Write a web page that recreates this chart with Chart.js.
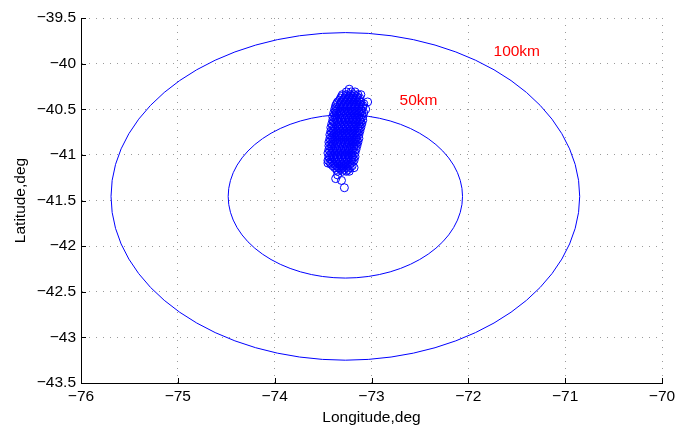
<!DOCTYPE html>
<html lang="en">
<head>
<meta charset="UTF-8">
<title>Longitude / Latitude</title>
<script src="https://cdn.jsdelivr.net/npm/chart.js"></script>
<style>
  body { margin: 0; background: #fff; }
  canvas { display: block; }
</style>
</head>
<body>
<canvas id="geoChart" width="688" height="431"></canvas>
<script>
// axis ticks
var lonTicks = [-76, -75, -74, -73, -72, -71, -70];
var latTicks = [-43.5, -43, -42.5, -42, -41.5, -41, -40.5, -40, -39.5];

// positions, grouped by latitude row
var rowLat = [-40.28, -40.31, -40.34, -40.38, -40.42, -40.46, -40.50, -40.54, -40.58, -40.62, -40.66, -40.70,
              -40.74, -40.78, -40.82, -40.86, -40.90, -40.94, -40.98, -41.02, -41.06, -41.10, -41.14, -41.18,
              -40.36, -40.40, -40.44, -40.48, -40.52, -40.56, -40.60, -40.64, -40.68, -40.72, -40.76,
              -40.80, -40.84, -40.88, -40.92, -40.96, -41.00, -41.04, -41.08, -41.12, -41.16];
var rowLon = [
    [-73.23],
    [-73.26, -73.21, -73.17],
    [-73.30, -73.26, -73.22, -73.18, -73.14, -73.11],
    [-73.32, -73.28, -73.24, -73.20, -73.16, -73.12],
    [-73.35, -73.31, -73.27, -73.23, -73.19, -73.15, -73.11, -73.04],
    [-73.37, -73.33, -73.29, -73.25, -73.21, -73.17, -73.13, -73.09],
    [-73.38, -73.35, -73.31, -73.27, -73.23, -73.19, -73.15, -73.11, -73.06],
    [-73.39, -73.36, -73.32, -73.28, -73.24, -73.20, -73.16, -73.12, -73.08],
    [-73.40, -73.37, -73.33, -73.29, -73.25, -73.21, -73.17, -73.13, -73.09],
    [-73.40, -73.36, -73.32, -73.28, -73.24, -73.20, -73.16, -73.12, -73.09],
    [-73.41, -73.37, -73.33, -73.29, -73.25, -73.21, -73.17, -73.13, -73.10],
    [-73.42, -73.38, -73.34, -73.30, -73.26, -73.22, -73.18, -73.14, -73.11],
    [-73.42, -73.39, -73.35, -73.31, -73.27, -73.23, -73.19, -73.15, -73.12],
    [-73.43, -73.39, -73.35, -73.31, -73.27, -73.23, -73.19, -73.16, -73.13],
    [-73.43, -73.40, -73.36, -73.32, -73.28, -73.24, -73.20, -73.16, -73.13],
    [-73.44, -73.40, -73.36, -73.32, -73.28, -73.24, -73.20, -73.17, -73.14],
    [-73.44, -73.41, -73.37, -73.33, -73.29, -73.25, -73.21, -73.18, -73.15],
    [-73.44, -73.40, -73.36, -73.32, -73.28, -73.24, -73.20, -73.16],
    [-73.45, -73.41, -73.37, -73.33, -73.29, -73.25, -73.21, -73.17],
    [-73.44, -73.40, -73.36, -73.32, -73.28, -73.24, -73.20, -73.17],
    [-73.45, -73.41, -73.37, -73.33, -73.29, -73.25, -73.21, -73.18],
    [-73.42, -73.38, -73.34, -73.30, -73.26, -73.22],
    [-73.38, -73.34, -73.30, -73.26, -73.22, -73.18],
    [-73.35, -73.30, -73.26, -73.23],
    // in-between rows
    [-73.31, -73.27, -73.23, -73.19, -73.15],
    [-73.33, -73.29, -73.25, -73.21, -73.17, -73.13],
    [-73.36, -73.32, -73.28, -73.24, -73.20, -73.16, -73.12, -73.08],
    [-73.37, -73.33, -73.29, -73.25, -73.21, -73.17, -73.13, -73.09],
    [-73.37, -73.33, -73.29, -73.25, -73.21, -73.17, -73.13, -73.10],
    [-73.38, -73.34, -73.30, -73.26, -73.22, -73.18, -73.14, -73.10],
    [-73.38, -73.35, -73.31, -73.27, -73.23, -73.19, -73.15, -73.11],
    [-73.39, -73.35, -73.31, -73.27, -73.23, -73.19, -73.15, -73.11],
    [-73.40, -73.36, -73.32, -73.28, -73.24, -73.20, -73.16, -73.12],
    [-73.40, -73.37, -73.33, -73.29, -73.25, -73.21, -73.17, -73.13],
    [-73.41, -73.37, -73.33, -73.29, -73.25, -73.21, -73.17, -73.14],
    [-73.41, -73.38, -73.34, -73.30, -73.26, -73.22, -73.18, -73.15],
    [-73.42, -73.38, -73.34, -73.30, -73.26, -73.22, -73.18, -73.15],
    [-73.42, -73.39, -73.35, -73.31, -73.27, -73.23, -73.19, -73.16],
    [-73.42, -73.38, -73.34, -73.30, -73.26, -73.22, -73.18],
    [-73.43, -73.39, -73.35, -73.31, -73.27, -73.23, -73.19],
    [-73.43, -73.39, -73.35, -73.31, -73.27, -73.23, -73.19],
    [-73.43, -73.39, -73.35, -73.31, -73.27, -73.23, -73.19],
    [-73.43, -73.40, -73.36, -73.32, -73.28, -73.24, -73.20],
    [-73.40, -73.36, -73.32, -73.28, -73.24, -73.20],
    [-73.36, -73.32, -73.28, -73.24]
];
// stray points below / left of the cluster
var strayLon = [-73.37, -73.31, -73.28, -73.35, -73.45];
var strayLat = [-41.26, -41.28, -41.36, -41.22, -41.09];

// range rings
var ringLabels = ['50km', '100km'];
var ringCenterLon = -73.27;
var ringCenterLat = -41.455;
var ringRadLon = [1.21, 2.42];
var ringRadLat = [0.895, 1.795];
var ringTextLon = [-72.71, -71.74];
var ringTextLat = [-40.41, -39.87];

var FONT = '"Liberation Sans", Arial, Helvetica, sans-serif';
var FSIZE = 15.5;

var points = [];
for (var i = 0; i < rowLat.length; i++) {
    rowLon[i].forEach(function (lon) { points.push({ x: lon, y: rowLat[i] }); });
}
for (var j = 0; j < strayLon.length; j++) {
    points.push({ x: strayLon[j], y: strayLat[j] });
}

function minusLabel(v) {
    return String(v).replace('-', '\u2212');
}

var ringPlugin = {
    id: 'rings',
    beforeDatasetsDraw: function (chart) {
        var ctx = chart.ctx, xs = chart.scales.x, ys = chart.scales.y, a = chart.chartArea;
        ctx.save();
        ctx.beginPath();
        ctx.rect(a.left, a.top, a.right - a.left, a.bottom - a.top);
        ctx.clip();
        ctx.strokeStyle = '#0000ff';
        ctx.lineWidth = 1;
        var cx = xs.getPixelForValue(ringCenterLon);
        var cy = ys.getPixelForValue(ringCenterLat);
        for (var k = 0; k < ringLabels.length; k++) {
            var rx = xs.getPixelForValue(ringCenterLon + ringRadLon[k]) - cx;
            var ry = cy - ys.getPixelForValue(ringCenterLat + ringRadLat[k]);
            ctx.beginPath();
            ctx.ellipse(cx, cy, rx, ry, 0, 0, Math.PI * 2);
            ctx.stroke();
        }
        ctx.fillStyle = '#ff0000';
        ctx.font = FSIZE + 'px ' + FONT;
        ctx.textAlign = 'left';
        ctx.textBaseline = 'middle';
        for (var t = 0; t < ringLabels.length; t++) {
            ctx.fillText(ringLabels[t], xs.getPixelForValue(ringTextLon[t]), ys.getPixelForValue(ringTextLat[t]));
        }
        ctx.restore();
    },
    afterDraw: function (chart) {
        // matlab style inward ticks
        var ctx = chart.ctx, xs = chart.scales.x, ys = chart.scales.y, a = chart.chartArea;
        ctx.save();
        ctx.strokeStyle = '#000';
        ctx.lineWidth = 1;
        ctx.beginPath();
        lonTicks.forEach(function (v) {
            var px = Math.round(xs.getPixelForValue(v)) + 0.5;
            ctx.moveTo(px, a.bottom);
            ctx.lineTo(px, a.bottom - 5);
        });
        latTicks.forEach(function (v) {
            var py = Math.round(ys.getPixelForValue(v)) + 0.5;
            ctx.moveTo(a.left, py);
            ctx.lineTo(a.left + 5, py);
        });
        ctx.stroke();
        ctx.restore();
    }
};

var ctx = document.getElementById('geoChart').getContext('2d');
var chart = new Chart(ctx, {
    type: 'scatter',
    data: {
        datasets: [{
            data: points,
            pointStyle: 'circle',
            pointRadius: 4,
            pointBorderWidth: 1,
            borderColor: '#0000ff',
            backgroundColor: 'rgba(0,0,0,0)'
        }]
    },
    options: {
        responsive: false,
        animation: false,
        events: [],
        layout: { padding: { left: 0, top: 18, right: 26, bottom: 0 } },
        plugins: { legend: { display: false }, tooltip: { enabled: false } },
        scales: {
            x: {
                type: 'linear',
                min: -76,
                max: -70,
                afterBuildTicks: function (s) { s.ticks = lonTicks.map(function (v) { return { value: v }; }); },
                afterFit: function (s) { s.height = 48; },
                grid: { color: '#9a9a9a', lineWidth: 1, drawTicks: false },
                border: { display: true, color: '#000', width: 1, dash: [1, 6] },
                ticks: {
                    padding: 4,
                    color: '#000',
                    font: { family: FONT, size: FSIZE },
                    maxRotation: 0,
                    callback: minusLabel
                },
                title: {
                    display: true,
                    text: 'Longitude,deg',
                    color: '#000',
                    font: { family: FONT, size: FSIZE },
                    padding: { top: 0, bottom: 3.7 }
                }
            },
            y: {
                type: 'linear',
                min: -43.5,
                max: -39.5,
                afterBuildTicks: function (s) { s.ticks = latTicks.map(function (v) { return { value: v }; }); },
                afterFit: function (s) { s.width = 81; },
                grid: { color: '#9a9a9a', lineWidth: 1, drawTicks: false },
                border: { display: true, color: '#000', width: 1, dash: [1, 6] },
                ticks: {
                    padding: 5,
                    color: '#000',
                    font: { family: FONT, size: FSIZE },
                    callback: minusLabel
                },
                title: {
                    display: true,
                    text: 'Latitude,deg',
                    color: '#000',
                    font: { family: FONT, size: FSIZE },
                    padding: { top: 11.7, bottom: 0 }
                }
            }
        }
    },
    plugins: [ringPlugin]
});
</script>
</body>
</html>
